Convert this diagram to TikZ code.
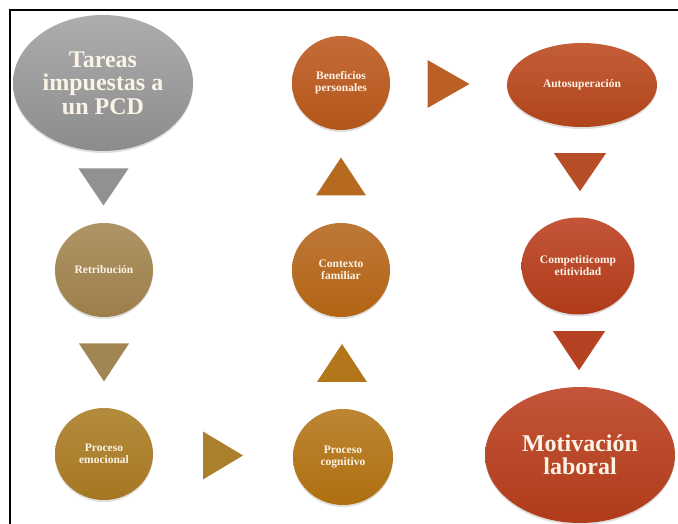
\documentclass[tikz,border=0pt]{standalone}
\usepackage{fontspec}
\setmainfont{Liberation Serif}
\usepackage{xcolor}
\usepackage{tikz}
\usetikzlibrary{calc, shapes.geometric, shadows}

\definecolor{txtcream}{HTML}{FBF4E6}
\definecolor{greytop}{HTML}{ADADAD}
\definecolor{greybot}{HTML}{8C8C8C}
\definecolor{tantop}{HTML}{AE9566}
\definecolor{tanbot}{HTML}{9C7E4A}
\definecolor{goldtop}{HTML}{B48C3E}
\definecolor{goldbot}{HTML}{A57722}
\definecolor{ambtop}{HTML}{BC8633}
\definecolor{ambbot}{HTML}{AF6F10}
\definecolor{ochtop}{HTML}{BD7838}
\definecolor{ochbot}{HTML}{B36414}
\definecolor{rusttop}{HTML}{C46C38}
\definecolor{rustbot}{HTML}{B3561A}
\definecolor{redtop}{HTML}{C45E38}
\definecolor{redbot}{HTML}{B0441B}
\definecolor{deeptop}{HTML}{C4553A}
\definecolor{deepbot}{HTML}{AF3B19}

\tikzset{
  bubble/.style={ellipse, inner sep=0pt, align=center, text=txtcream,
    font=\bfseries\fontsize{11.5}{12}\selectfont,
    drop shadow={shadow xshift=0pt, shadow yshift=-2pt, opacity=0.25}},
  bigbubble/.style={bubble, font=\bfseries\fontsize{24}{23.5}\selectfont}
}

\begin{document}
\begin{tikzpicture}[x=1pt, y=1pt]
  \useasboundingbox (0,0) rectangle (678,524);
  \draw[line width=2pt] (10,-10) -- (10,514) -- (690,514);

  % left column
  \node (tareas) [bigbubble, top color=greytop, bottom color=greybot,
    minimum width=180, minimum height=136] at (103,441) {Tareas\\impuestas a\\un PCD};
  \node (retrib) [bubble, top color=tantop, bottom color=tanbot,
    minimum width=98, minimum height=94] at (104,254) {Retribución};
  \node (emoc) [bubble, top color=goldtop, bottom color=goldbot,
    minimum width=98, minimum height=92] at (104,70) {Proceso\\emocional};

  % middle column
  \node (cogn) [bubble, top color=ambtop, bottom color=ambbot,
    minimum width=100, minimum height=96] at (343,67) {Proceso\\cognitivo};
  \node (contexto) [bubble, top color=ochtop, bottom color=ochbot,
    minimum width=98, minimum height=94] at (341,254) {Contexto\\familiar};
  \node (benef) [bubble, top color=rusttop, bottom color=rustbot,
    minimum width=98, minimum height=94] at (341,441) {Beneficios\\personales};

  % right column
  \node (autosup) [bubble, top color=redtop, bottom color=redbot,
    minimum width=150, minimum height=84] at (582,439) {Autosuperación};
  \node (compet) [bubble, top color=deeptop, bottom color=deepbot,
    minimum width=113, minimum height=97] at (578,258) {Competiticomp\\etitividad};
  \node (motiv) [bigbubble, top color=deeptop, bottom color=deepbot,
    minimum width=190, minimum height=136] at (580,69) {Motivación\\laboral};

  % triangle arrows between the bubbles
  \coordinate (t1) at ($(tareas.south)!0.5!(retrib.north)$);
  \coordinate (t2) at ($(retrib.south)!0.5!(emoc.north)$);
  \coordinate (t3) at ($(emoc.east)!0.5!(cogn.west)$);
  \coordinate (t4) at ($(cogn.north)!0.5!(contexto.south)$);
  \coordinate (t5) at ($(contexto.north)!0.5!(benef.south)$);
  \coordinate (t6) at ($(benef.east)!0.5!(autosup.west)$);
  \coordinate (t7) at ($(autosup.south)!0.5!(compet.north)$);
  \coordinate (t8) at ($(compet.south)!0.5!(motiv.north)$);

  \fill[greybot!85!greytop] (t1) ++(-25,18.5) -- ++(50,0) -- ++(-25,-37) -- cycle;
  \fill[tanbot!70!tantop] (t2) ++(-25,19) -- ++(50,0) -- ++(-25,-38) -- cycle;
  \fill[goldbot!60!goldtop] (t3) ++(-20,24) -- ++(40,-24) -- ++(-40,-24) -- cycle;
  \fill[ambbot!70!ambtop] (t4) ++(-25,-19) -- ++(50,0) -- ++(-25,38) -- cycle;
  \fill[ochbot!70!ochtop] (t5) ++(-25,-19) -- ++(50,0) -- ++(-25,38) -- cycle;
  \fill[rustbot!60!rusttop] (t6) ++(-21,24) -- ++(42,-24) -- ++(-42,-24) -- cycle;
  \fill[redbot!60!redtop] (t7) ++(-26,19) -- ++(52,0) -- ++(-26,-38) -- cycle;
  \fill[deepbot!70!deeptop] (t8) ++(-26,19.5) -- ++(52,0) -- ++(-26,-39) -- cycle;
\end{tikzpicture}
\end{document}
